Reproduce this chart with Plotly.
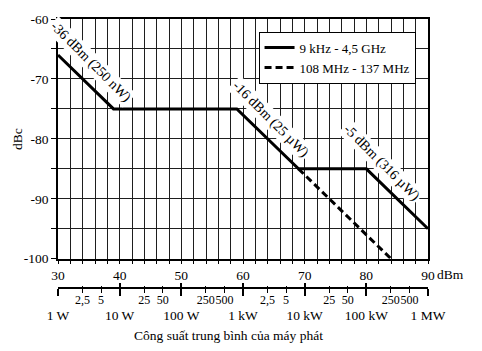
import numpy as np
import plotly.graph_objects as go

# ---- data ----
solid_x = [30, 39, 59, 69, 80, 90]
solid_y = [-66, -75, -75, -85, -85, -95]
dashed_x = [69, 84]
dashed_y = [-85, -100]
solid_name = "9 kHz - 4,5 GHz"
dashed_name = "108 MHz - 137 MHz"

x_ticks = list(range(30, 91, 2))
x_labels = ["30", "40", "50", "60", "70", "80", "90"]
y_ticks = list(range(-100, -59, 5))
y_labels = ["-100", "-90", "-80", "-70", "-60"]

power_major_dbm = [30, 40, 50, 60, 70, 80, 90]
power_major_labels = ["1 W", "10 W", "100 W", "1 kW", "10 kW", "100 kW", "1 MW"]
power_minor_watts = [2.5, 5, 25, 50, 250, 500, 2500, 5000, 25000, 50000, 250000, 500000]
power_minor_labels = ["2,5", "5", "25", "50", "250", "500", "2,5", "5", "25", "50", "250", "500"]

notes = [
    ("-36 dBm (250 nW)", 35.3, -67.2),
    ("-16 dBm (25 µW)", 64.4, -76.7),
    ("-5 dBm (316 µW)", 82.5, -84.0),
]

x_title = "Công suất trung bình của máy phát"
y_title = "dBc"

# ---- figure ----
FONT = "Liberation Serif"
FS = 13.5
power_minor_dbm = [10 * np.log10(w * 1000) for w in power_minor_watts]

xt_text = [str(v) if str(v) in x_labels else "" for v in x_ticks]
yt_text = [str(v) if str(v) in y_labels else "" for v in y_ticks]

fig = go.Figure()
fig.add_trace(go.Scatter(x=solid_x, y=solid_y, mode="lines", name=solid_name,
                         line=dict(color="black", width=3)))
fig.add_trace(go.Scatter(x=dashed_x, y=dashed_y, mode="lines", name=dashed_name,
                         line=dict(color="black", width=3, dash="7px,4px")))
# empty traces so the extra power axes get drawn
for ax in ["x2", "x3", "x4"]:
    fig.add_trace(go.Scatter(x=[None], y=[None], xaxis=ax, yaxis="y", mode="lines",
                             showlegend=False, hoverinfo="skip"))

grid = dict(showgrid=True, gridcolor="#1e1e1e", gridwidth=1.3, zeroline=False)
tickfont = dict(family=FONT, size=FS, color="black")

fig.update_layout(
    width=482, height=351,
    margin=dict(l=58, r=54, t=12, b=63),
    paper_bgcolor="white", plot_bgcolor="white",
    font=dict(family=FONT, size=FS, color="black"),
    showlegend=True,
    legend=dict(x=0.542, y=0.953, xanchor="left", yanchor="top",
                bgcolor="white", bordercolor="black", borderwidth=1,
                font=dict(family=FONT, size=13), tracegroupgap=0),
    xaxis=dict(range=[30, 90], domain=[0, 1], anchor="y",
               tickmode="array", tickvals=x_ticks, ticktext=xt_text, tickangle=0,
               ticks="outside", ticklen=3, tickwidth=1.2, tickcolor="black",
               showline=True, mirror=True, linecolor="black", linewidth=1.5,
               tickfont=tickfont, **grid),
    yaxis=dict(range=[-100, -60], domain=[0.1087, 1],
               tickmode="array", tickvals=y_ticks, ticktext=yt_text,
               ticks="outside", ticklen=5, tickwidth=1.2, tickcolor="black",
               showline=True, mirror=True, linecolor="black", linewidth=1.5,
               tickfont=tickfont, **grid),
    xaxis2=dict(overlaying="x", anchor="free", position=0, range=[30, 90],
                tickmode="array", tickvals=power_major_dbm, ticktext=power_major_labels,
                tickangle=0,
                ticks="outside", ticklen=7, tickwidth=1.5, tickcolor="black",
                minor=dict(tickmode="array", tickvals=power_minor_dbm, ticks="outside",
                           ticklen=4, tickwidth=1.3, tickcolor="black"),
                showline=True, linecolor="black", linewidth=1.5,
                ticklabelstandoff=8, tickfont=dict(family=FONT, size=13.5, color="black"),
                showgrid=False, zeroline=False),
    xaxis3=dict(overlaying="x", anchor="free", position=0, range=[30, 90],
                tickmode="array", tickvals=power_minor_dbm, ticktext=power_minor_labels,
                tickangle=0,
                ticks="", showline=False, ticklabelstandoff=3,
                tickfont=dict(family=FONT, size=12, color="black"),
                showgrid=False, zeroline=False),
    xaxis4=dict(overlaying="x", anchor="free", position=0, range=[30, 90],
                tickmode="array", tickvals=power_major_dbm, ticktext=[""] * len(power_major_dbm),
                ticks="inside", ticklen=5, tickwidth=1.5, tickcolor="black",
                minor=dict(tickmode="array", tickvals=power_minor_dbm, ticks="inside",
                           ticklen=2, tickwidth=1.3, tickcolor="black"),
                showline=False, showticklabels=False,
                showgrid=False, zeroline=False),
)

for text, x, y in notes:
    fig.add_annotation(x=x, y=y, xref="x", yref="y", text=text, textangle=45,
                       showarrow=False, bgcolor="white", borderpad=1,
                       font=dict(family=FONT, size=14, color="black"))

fig.add_annotation(x=90, y=0.0507, xref="x", yref="paper", text="dBm",
                   xanchor="left", yanchor="middle", xshift=7, showarrow=False,
                   font=dict(family=FONT, size=FS, color="black"))
fig.add_annotation(x=0.462, y=-0.1775, xref="paper", yref="paper", text=x_title,
                   xanchor="center", yanchor="middle", showarrow=False,
                   font=dict(family=FONT, size=FS, color="black"))
fig.add_annotation(x=-0.108, y=0.554, xref="paper", yref="paper", text=y_title,
                   textangle=-90, xanchor="center", yanchor="middle", showarrow=False,
                   font=dict(family=FONT, size=FS, color="black"))

fig.write_html("out.html")
